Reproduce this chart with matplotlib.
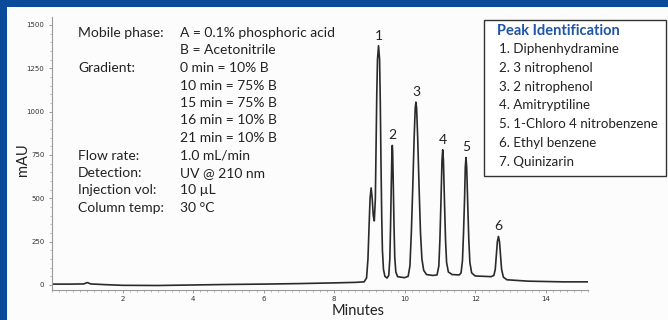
import matplotlib
matplotlib.use("Agg")
import matplotlib.pyplot as plt
from matplotlib.patches import Rectangle
from matplotlib.ticker import MultipleLocator

# chromatogram trace (minutes, mAU)
trace_min = [0.0, 0.5, 0.9, 1.0, 1.1, 1.5, 2.0, 3.0, 4.0, 5.0, 6.0, 7.0, 8.0, 8.6, 8.85,
             8.92, 8.96, 8.99, 9.02, 9.05, 9.08, 9.11, 9.14, 9.17, 9.19, 9.21, 9.23, 9.26,
             9.29, 9.31, 9.33, 9.35, 9.37, 9.40, 9.44, 9.50,
             9.55, 9.58, 9.60, 9.62, 9.64, 9.65, 9.66, 9.68, 9.70, 9.72, 9.75, 9.80, 10.0,
             10.10, 10.15, 10.19, 10.23, 10.27, 10.30, 10.32, 10.34, 10.37, 10.41, 10.45,
             10.49, 10.54, 10.62, 10.80,
             10.92, 10.97, 11.00, 11.03, 11.06, 11.08, 11.10, 11.13, 11.16, 11.19, 11.24,
             11.35, 11.55,
             11.60, 11.64, 11.67, 11.70, 11.72, 11.74, 11.76, 11.79, 11.82, 11.85, 11.90,
             12.0, 12.45,
             12.53, 12.57, 12.60, 12.63, 12.66, 12.69, 12.72, 12.75, 12.80, 12.9, 13.5,
             14.5, 15.2]
trace_mau = [5, 5, 6, 14, 6, 2, -2, -3, 0, 3, 5, 8, 12, 15, 18,
             40, 150, 330, 500, 560, 500, 400, 370, 500, 800, 1100, 1300, 1380,
             1300, 1050, 700, 400, 200, 90, 50, 40,
             55, 150, 330, 560, 770, 805, 770, 560, 330, 160, 75, 48, 42,
             50, 110, 300, 560, 850, 1020, 1055, 1020, 850, 560, 300,
             150, 85, 60, 55,
             58, 110, 260, 480, 720, 780, 720, 480, 260, 130, 75,
             60, 58,
             70, 140, 300, 500, 680, 735, 680, 460, 260, 130, 70,
             52, 48,
             55, 90, 170, 250, 280, 250, 170, 90, 45, 30, 22,
             18, 18]

peak_num = ["1", "2", "3", "4", "5", "6"]
peak_rt = [9.26, 9.65, 10.32, 11.08, 11.74, 12.66]
peak_top = [1380, 805, 1055, 780, 735, 280]

cond_labels = ["Mobile phase:", "", "Gradient:", "", "", "", "",
               "Flow rate:", "Detection:", "Injection vol:", "Column temp:"]
cond_values = ["A = 0.1% phosphoric acid", "B = Acetonitrile",
               "0 min = 10% B", "10 min = 75% B", "15 min = 75% B",
               "16 min = 10% B", "21 min = 10% B",
               "1.0 mL/min", "UV @ 210 nm", "10 µL", "30 °C"]

legend_title = "Peak Identification"
compounds = ["1. Diphenhydramine", "2. 3 nitrophenol", "3. 2 nitrophenol",
             "4. Amitryptiline", "5. 1-Chloro 4 nitrobenzene",
             "6. Ethyl benzene", "7. Quinizarin"]

W, H = 668, 320
BLUE = "#0a4a9a"
FONT = ["Lato", "DejaVu Sans"]


def fx(x):
    return x / W


def fy(y):
    return 1 - y / H


fig = plt.figure(figsize=(W / 100, H / 100), dpi=100)
fig.patch.set_facecolor("#fcfcfc")

ax = fig.add_axes([fx(52), fy(290), fx(588) - fx(52), fy(17) - fy(290)])
ax.set_facecolor("none")
ax.plot(trace_min, trace_mau, color="#2a2a2a", lw=1.2)
ax.set_xlim(0, 15.2)
ax.set_ylim(-29, 1546)

for s in ["top", "right"]:
    ax.spines[s].set_visible(False)
for s in ["left", "bottom"]:
    ax.spines[s].set_color("#9a9a9a")
    ax.spines[s].set_linewidth(0.8)

ax.xaxis.set_minor_locator(MultipleLocator(0.2))
ax.yaxis.set_major_locator(MultipleLocator(250))
ax.yaxis.set_minor_locator(MultipleLocator(50))
ax.set_xticks([2, 4, 6, 8, 10, 12, 14])
ax.tick_params(axis="both", which="major", length=2.5, width=0.6, color="#8a8a8a",
               labelsize=5, labelcolor="#333333", pad=2)
ax.tick_params(axis="both", which="minor", length=1.2, width=0.5, color="#a0a0a0")
ax.tick_params(axis="y", pad=3)

for num, rt, top in zip(peak_num, peak_rt, peak_top):
    ax.annotate(num, (rt, top), xytext=(0, 3), textcoords="offset points",
                ha="center", va="bottom", fontsize=10, color="#222222", family=FONT)

fig.text(fx(358), fy(311), "Minutes", ha="center", va="center", fontsize=10.5,
         color="#222222", family=FONT)
fig.text(fx(23), fy(160), "mAU", ha="center", va="center", rotation=90,
         fontsize=10.5, color="#222222", family=FONT)

# run conditions
for i, (lab, val) in enumerate(zip(cond_labels, cond_values)):
    y = 33 + 17.5 * i
    if lab:
        fig.text(fx(78), fy(y), lab, ha="left", va="center", fontsize=10,
                 color="#222222", family=FONT)
    fig.text(fx(180), fy(y), val, ha="left", va="center", fontsize=10,
             color="#222222", family=FONT)

# peak identification box
fig.patches.append(Rectangle((fx(484), fy(176)), fx(666) - fx(484), fy(20) - fy(176),
                             transform=fig.transFigure, facecolor="white",
                             edgecolor="#333333", lw=1.0))
fig.text(fx(497), fy(31), legend_title, ha="left", va="center", fontsize=10.5,
         fontweight="bold", color="#1f55a6", family=FONT)
for i, c in enumerate(compounds):
    fig.text(fx(499), fy(49 + 18.8 * i), c, ha="left", va="center", fontsize=9.6,
             color="#222222", family=FONT)

# blue frame: header bar and left edge
fig.patches.append(Rectangle((0, fy(7)), 1, fy(0) - fy(7), transform=fig.transFigure,
                             facecolor=BLUE, edgecolor="none"))
fig.patches.append(Rectangle((0, 0), fx(7), 1, transform=fig.transFigure,
                             facecolor=BLUE, edgecolor="none"))

fig.savefig("out.png", dpi=100)
